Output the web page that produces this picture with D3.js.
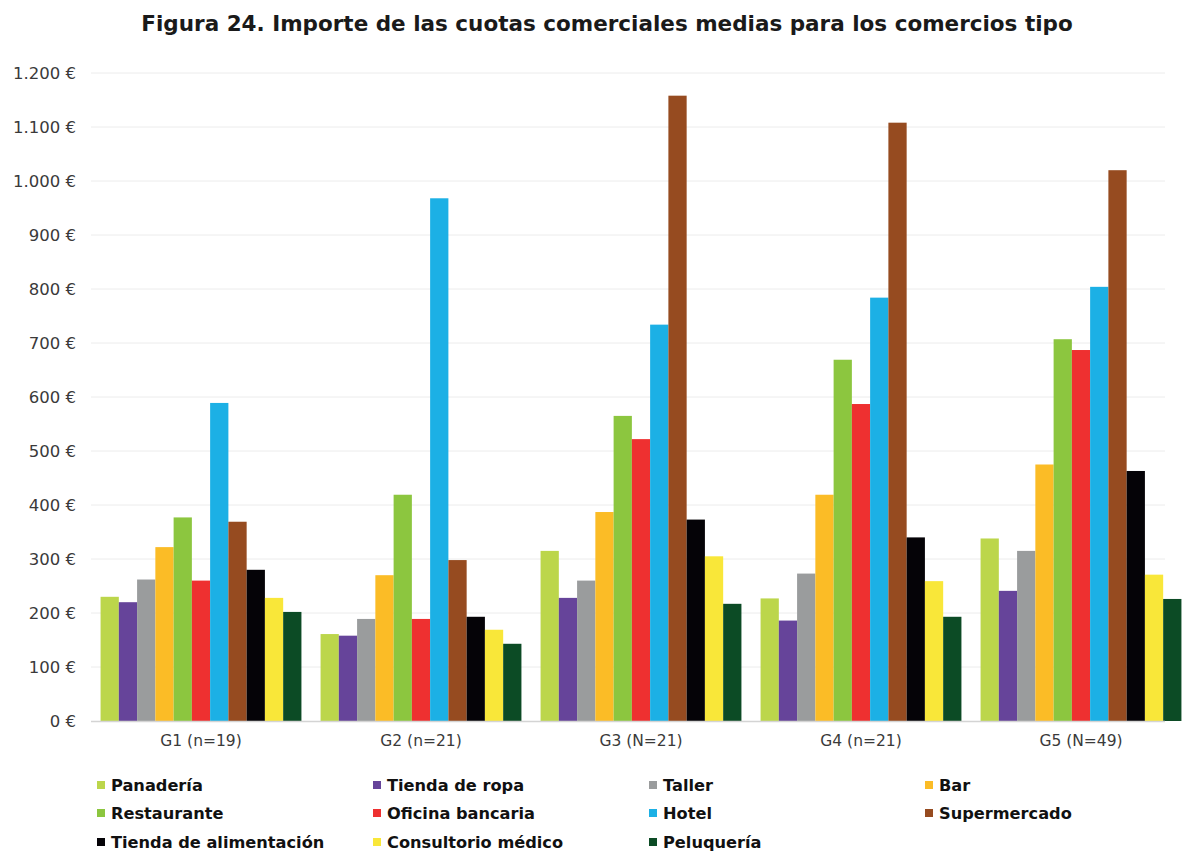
<!DOCTYPE html>
<html><head><meta charset="utf-8">
<script src="https://cdn.jsdelivr.net/npm/d3@7"></script>
<style>body{margin:0;background:#fff}svg{display:block}</style>
</head><body>
<svg id="c" width="1185" height="852"></svg>
<script>
const title = "Figura 24. Importe de las cuotas comerciales medias para los comercios tipo";
const groups = ["G1 (n=19)", "G2 (n=21)", "G3 (N=21)", "G4 (n=21)", "G5 (N=49)"];
const seriesNames = ["Panadería","Tienda de ropa","Taller","Bar","Restaurante","Oficina bancaria","Hotel","Supermercado","Tienda de alimentación","Consultorio médico","Peluquería"];
const seriesColors = ["#bcd64b","#66449a","#9a9c9d","#fbbc26","#8cc63f","#ee3030","#1cb0e5","#964b20","#050307","#f9e739","#0c4b25"];
const panaderia    = [230, 161, 315, 227, 338];
const tiendaRopa   = [220, 158, 228, 186, 241];
const taller       = [262, 189, 260, 273, 315];
const bar          = [322, 270, 387, 419, 475];
const restaurante  = [377, 419, 565, 669, 707];
const oficina      = [260, 189, 522, 587, 687];
const hotel        = [589, 968, 734, 784, 804];
const supermercado = [369, 298, 1158, 1108, 1020];
const alimentacion = [280, 193, 373, 340, 463];
const consultorio  = [228, 169, 305, 259, 271];
const peluqueria   = [202, 143, 217, 193, 226];
const yTicks = [0,100,200,300,400,500,600,700,800,900,1000,1100,1200];
const seriesValues = [panaderia,tiendaRopa,taller,bar,restaurante,oficina,hotel,supermercado,alimentacion,consultorio,peluqueria];

(function(){
const svg = d3.select("#c");
const mL = 91, mR = 1191, mT = 73, mB = 721;
const y = d3.scaleLinear().domain([0,1200]).range([mB, mT]);
const x0 = d3.scaleBand().domain(groups).range([mL, mR]).paddingInner(0.087).paddingOuter(0.0435);
const x1 = d3.scaleBand().domain(seriesNames).range([0, x0.bandwidth()]);
const fmt = v => (v >= 1000 ? d3.format(",")(v).replace(",", ".") : String(v)) + " €";

svg.append("text").attr("x", 607).attr("y", 31).attr("text-anchor","middle")
  .attr("font-family","DejaVu Sans").attr("font-weight","bold").attr("font-size",21.5).attr("fill","#1a1a1a")
  .text(title);

svg.append("g").selectAll("line").data(yTicks.filter(d=>d>0)).join("line")
  .attr("x1", mL).attr("x2", 1165).attr("y1", d=>y(d)).attr("y2", d=>y(d))
  .attr("stroke","#ececec").attr("stroke-width",1);

const yAxis = svg.append("g").attr("transform",`translate(${mL},0)`)
  .call(d3.axisLeft(y).tickValues(yTicks).tickFormat(fmt).tickSize(0).tickPadding(15));
yAxis.select(".domain").remove();
yAxis.selectAll("text").attr("font-family","DejaVu Sans").attr("font-size",16.5).attr("fill","#3a3a3a");

const gg = svg.append("g").selectAll("g").data(groups).join("g")
  .attr("transform", d => `translate(${x0(d)},0)`);
gg.selectAll("rect").data((g,gi) => seriesNames.map((s,si)=>({s, si, v: seriesValues[si][gi]}))).join("rect")
  .attr("x", d => x1(d.s)).attr("width", x1.bandwidth())
  .attr("y", d => y(d.v)).attr("height", d => y(0) - y(d.v))
  .attr("fill", d => seriesColors[d.si]);

svg.append("line").attr("x1", mL).attr("x2", 1165).attr("y1", y(0)+0.5).attr("y2", y(0)+0.5)
  .attr("stroke","#d4d4d4").attr("stroke-width",1.5);

const xAxis = svg.append("g").attr("transform",`translate(0,${mB})`)
  .call(d3.axisBottom(x0).tickSize(0).tickPadding(14));
xAxis.select(".domain").remove();
xAxis.selectAll("text").attr("font-family","DejaVu Sans").attr("font-size",15.5).attr("fill","#3a3a3a");

const colX = [97, 373, 649, 925];
const rowY = [785, 813, 842];
const lg = svg.append("g").selectAll("g").data(seriesNames).join("g")
  .attr("transform", (d,i) => `translate(${colX[i%4]},${rowY[Math.floor(i/4)]})`);
lg.append("rect").attr("x",0).attr("y",-4).attr("width",8).attr("height",8)
  .attr("fill", (d,i) => seriesColors[i]);
lg.append("text").attr("x",14).attr("y",0).attr("dy","0.35em")
  .attr("font-family","DejaVu Sans").attr("font-weight","bold").attr("font-size",16.2).attr("fill","#111")
  .text(d=>d);
})();
</script>
</body></html>
